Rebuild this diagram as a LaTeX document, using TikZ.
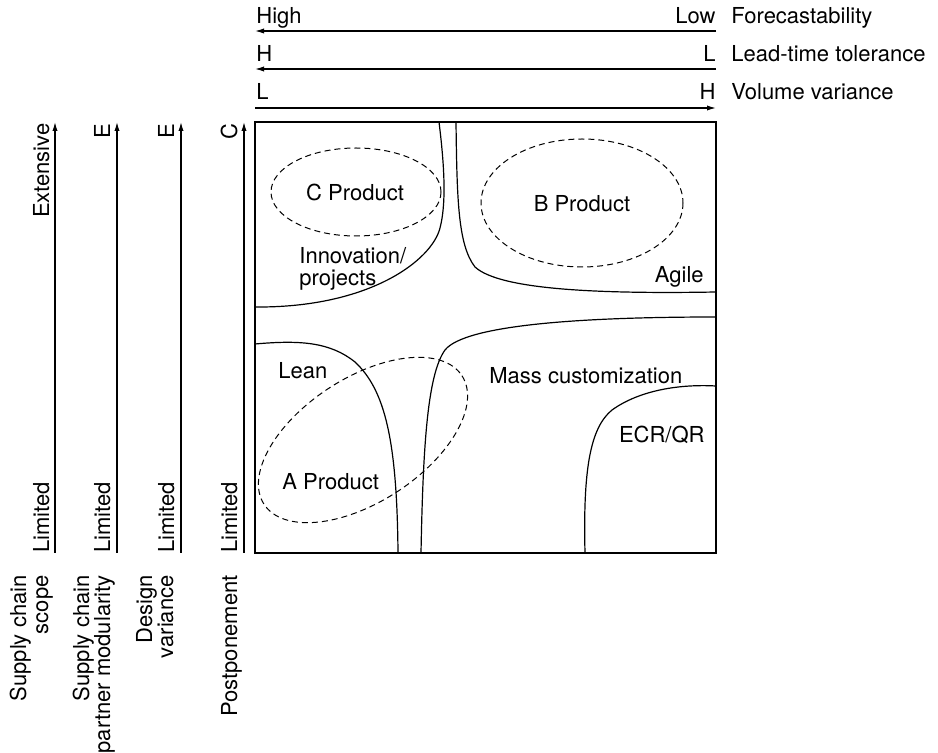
\documentclass[tikz,border=0pt]{standalone}
\usepackage{fontspec}
\setmainfont{TeX Gyre Heros}
\usetikzlibrary{arrows.meta}
\begin{document}
\begin{tikzpicture}[x=0.5pt,y=-0.5pt,
  lbl/.style={font=\fontsize{11}{13}\selectfont, inner sep=0pt},
  vlbl/.style={lbl, rotate=90},
  axisline/.style={line width=0.6pt, -{Latex[length=4.5pt,width=2.6pt]}},
  zone/.style={line width=0.6pt},
  group/.style={line width=0.5pt, dash pattern=on 3pt off 2pt}]
\useasboundingbox (0,0) rectangle (938,753);

% ---- horizontal scales above the matrix
\coordinate (fR) at (716,31);  \coordinate (fL) at (255,31);
\coordinate (lR) at (716,69);  \coordinate (lL) at (255,69);
\coordinate (vL) at (255,108); \coordinate (vR) at (716,108);
\draw[axisline] (fR) -- (fL);
\draw[axisline] (lR) -- (lL);
\draw[axisline] (vL) -- (vR);
\node[lbl, anchor=base west] (fhi) at (256,24) {High};
\node[lbl, anchor=base east] (flo) at (716,24) {Low};
\node[lbl, anchor=base west] (fname) at (731,24) {Forecastability};
\node[lbl, anchor=base west] (lhi) at (256,62) {H};
\node[lbl, anchor=base east] (llo) at (716,62) {L};
\node[lbl, anchor=base west] (lname) at (731,62) {Lead-time tolerance};
\node[lbl, anchor=base west] (vlo) at (256,100) {L};
\node[lbl, anchor=base east] (vhi) at (716,100) {H};
\node[lbl, anchor=base west] (vname) at (731,100) {Volume variance};

% ---- vertical scales left of the matrix
\coordinate (s0) at (55,553);  \coordinate (s1) at (55,122);
\coordinate (m0) at (117,553); \coordinate (m1) at (117,122);
\coordinate (d0) at (181,553); \coordinate (d1) at (181,122);
\coordinate (p0) at (244,553); \coordinate (p1) at (244,122);
\draw[axisline] (s0) -- (s1);
\draw[axisline] (m0) -- (m1);
\draw[axisline] (d0) -- (d1);
\draw[axisline] (p0) -- (p1);
\node[vlbl, anchor=base east] (stop) at (49,123) {Extensive};
\node[vlbl, anchor=base west] (sbot) at (49,553) {Limited};
\node[vlbl, anchor=base east] (mtop) at (110,123) {E};
\node[vlbl, anchor=base west] (mbot) at (110,553) {Limited};
\node[vlbl, anchor=base east] (dtop) at (174,123) {E};
\node[vlbl, anchor=base west] (dbot) at (174,553) {Limited};
\node[vlbl, anchor=base east] (ptop) at (237,123) {C};
\node[vlbl, anchor=base west] (pbot) at (237,553) {Limited};

% ---- names of the vertical scales
\node[vlbl, anchor=base east] (sn1) at (26,575) {Supply chain};
\node[vlbl, anchor=base east] (sn2) at (48,575) {scope};
\node[vlbl, anchor=base east] (mn1) at (89,575) {Supply chain};
\node[vlbl, anchor=base east] (mn2) at (110,575) {partner modularity};
\node[vlbl, anchor=base east] (dn1) at (152,575) {Design};
\node[vlbl, anchor=base east] (dn2) at (173,575) {variance};
\node[vlbl, anchor=base east] (pn1) at (237,575) {Postponement};

% ---- matrix frame
\draw[zone] (255,122) rectangle (716,553);

% ---- region boundaries
\draw[zone] (439,122) .. controls (445,170) and (446,205) .. (440,228)
            .. controls (432,260) and (370,308) .. (255,307);
\draw[zone] (456,122) .. controls (457,200) and (458,245) .. (475,267)
            .. controls (500,290) and (600,294) .. (716,292);
\draw[zone] (421,553) .. controls (423,450) and (427,375) .. (445,350)
            .. controls (465,325) and (580,317) .. (716,317);
\draw[zone] (255,344) .. controls (300,340) and (330,342) .. (355,362)
            .. controls (385,390) and (397,440) .. (398,553);
\draw[zone] (716,386) .. controls (680,384) and (640,390) .. (612,410)
            .. controls (590,428) and (583,470) .. (585,553);

% ---- product groups
\draw[group] (356,192) ellipse [x radius=85, y radius=44];
\draw[group] (582,203) ellipse [x radius=101, y radius=64];
\begin{scope}[shift={(363,440)}, rotate=33]
  \draw[group] (0,0) ellipse [x radius=118, y radius=62];
\end{scope}

% ---- region and product names
\node[lbl, anchor=base] (cprod) at (355,201) {C Product};
\node[lbl, anchor=base] (bprod) at (582,212) {B Product};
\node[lbl, anchor=base west] (aprod) at (282,490) {A Product};
\node[lbl, anchor=base west] (innov) at (299,264) {Innovation/};
\node[lbl, anchor=base west] (proj) at (299,286) {projects};
\node[lbl, anchor=base east] (agile) at (704,283) {Agile};
\node[lbl, anchor=base west] (lean) at (278,379) {Lean};
\node[lbl, anchor=base west] (masscust) at (489,384) {Mass customization};
\node[lbl, anchor=base east] (ecr) at (705,443) {ECR/QR};
\end{tikzpicture}
\end{document}
